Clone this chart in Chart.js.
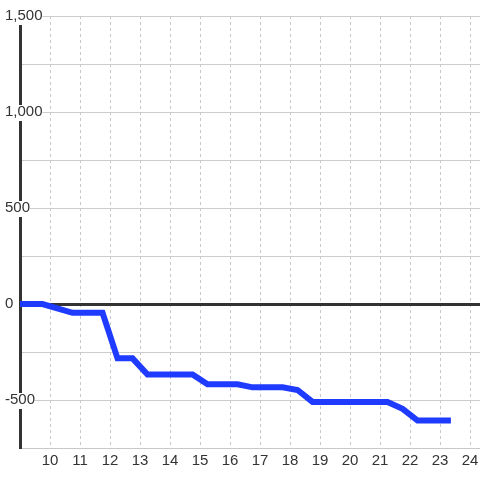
<!DOCTYPE html>
<html>
<head>
<meta charset="utf-8">
<script src="https://cdn.jsdelivr.net/npm/chart.js@4/dist/chart.umd.min.js"></script>
<style>
html,body{margin:0;padding:0;background:#fff;}
canvas{display:block;}
</style>
</head>
<body>
<canvas id="c" width="480" height="480"></canvas>
<script>
const hours = [8.75, 9.75, 10.75, 11.75, 12.25, 12.75, 13.25, 14.75, 15.25, 16.25, 16.75, 17.75, 18.25, 18.75, 21.25, 21.75, 22.25, 23.36];
const values = [0, 0, -46, -46, -283, -283, -367, -367, -418, -418, -434, -434, -448, -510, -510, -546, -607, -607];
const xTicks = [10, 11, 12, 13, 14, 15, 16, 17, 18, 19, 20, 21, 22, 23, 24];
const yTicks = [-750, -500, -250, 0, 250, 500, 750, 1000, 1250, 1500];
const yLabelStep = 500;

const points = hours.map((h, i) => ({x: h, y: values[i]}));
const font = {family: '"Liberation Sans", Arial, sans-serif', size: 15};

new Chart(document.getElementById('c'), {
  type: 'line',
  data: {
    datasets: [{
      data: points,
      borderColor: '#1f3bff',
      borderWidth: 6,
      pointRadius: 0,
      tension: 0,
      fill: false
    }]
  },
  options: {
    responsive: false,
    animation: false,
    devicePixelRatio: 1,
    layout: {padding: {left: 20, top: 16, right: 0, bottom: 0}},
    plugins: {legend: {display: false}, tooltip: {enabled: false}},
    scales: {
      x: {
        type: 'linear',
        min: 9,
        max: 24.33,
        afterBuildTicks: s => { s.ticks = xTicks.map(v => ({value: v})); },
        afterFit: s => { s.height = 32; s.paddingLeft = 0; s.paddingRight = 0; },
        ticks: {font: font, color: '#333', padding: 4, maxRotation: 0, autoSkip: false,
                callback: v => String(v)},
        grid: {color: '#c8c8c8', lineWidth: 1, drawTicks: false},
        border: {display: true, color: '#c8c8c8', width: 1, dash: [3,3]}
      },
      y: {
        type: 'linear',
        min: -750,
        max: 1500,
        afterBuildTicks: s => { s.ticks = yTicks.map(v => ({value: v})); },
        afterFit: s => { s.width = 0; s.paddingTop = 0; s.paddingBottom = 0; },
        ticks: {
          font: font, color: '#333', mirror: true, padding: -15, crossAlign: 'near', autoSkip: false,
          showLabelBackdrop: true, backdropColor: '#ffffff', backdropPadding: {top: -2, bottom: 0, left: 0, right: 0},
          callback: v => (v % yLabelStep === 0 ? v.toLocaleString('en-US') : '')
        },
        grid: {
          drawTicks: false,
          color: c => (c.tick && c.tick.value === 0 ? '#333333' : '#cccccc'),
          lineWidth: c => (c.tick && c.tick.value === 0 ? 3 : 1)
        },
        border: {display: true, color: '#333333', width: 3}
      }
    }
  }
});
</script>
</body>
</html>
